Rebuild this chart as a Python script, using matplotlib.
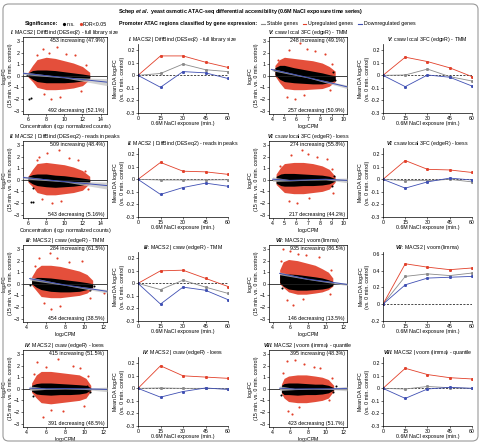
import numpy as np
import matplotlib
matplotlib.use('Agg')
import matplotlib.pyplot as plt
from matplotlib.patches import FancyBboxPatch
from matplotlib.lines import Line2D

plt.rcParams['font.family'] = ['Liberation Sans', 'DejaVu Sans']
plt.rcParams['mathtext.fontset'] = 'custom'
plt.rcParams['mathtext.rm'] = 'Liberation Sans'
plt.rcParams['mathtext.it'] = 'Liberation Sans:italic'
plt.rcParams['mathtext.bf'] = 'Liberation Sans:bold'
plt.rcParams['mathtext.bfit'] = 'Liberation Sans:bold:italic'

# ── panel labels ─────────────────────────────────────────────────────────────
NUMERALS = ['I', 'II', 'III', 'IV', 'V', 'VI', 'VII', 'VIII']
TITLES = [
    'MACS2 | DiffBind (DESeq2) - full library size',
    'MACS2 | DiffBind (DESeq2) - reads in peaks',
    'MACS2 | csaw (edgeR) - TMM',
    'MACS2 | csaw (edgeR) - loess',
    'csaw local 3FC (edgeR) - TMM',
    'csaw local 3FC (edgeR) - loess',
    'MACS2 | voom (limma)',
    'MACS2 | voom (limma) - quantile',
]
INC_TEXT = ['453 increasing (47.9%)', '509 increasing (48.4%)',
            '284 increasing (61.5%)', '415 increasing (51.5%)',
            '248 increasing (49.1%)', '274 increasing (55.8%)',
            '935 increasing (86.5%)', '395 increasing (48.3%)']
DEC_TEXT = ['492 decreasing (52.1%)', '543 decreasing (5.16%)',
            '454 decreasing (38.5%)', '391 decreasing (48.5%)',
            '257 decreasing (50.9%)', '217 decreasing (44.2%)',
            '146 decreasing (13.5%)', '423 decreasing (51.7%)']
XLABELS = [r'Concentration (log$_2$ normalized counts)'] * 2 + [r'log$_2$CPM'] * 6

# ── MA plot x axes ───────────────────────────────────────────────────────────
XLIMS = [(5.45, 14.7), (5.45, 14.7), (3.6, 12.4), (3.6, 12.4),
         (3.7, 10.3), (3.7, 10.3), (3.6, 12.4), (3.6, 12.4)]
XTICKS = [[6, 8, 10, 12, 14]] * 2 + [[4, 6, 8, 10, 12]] * 2 + \
         [[4, 5, 6, 7, 8, 9, 10]] * 2 + [[4, 6, 8, 10, 12]] * 2

# ── MA point clouds (envelopes) ──────────────────────────────────────────────
CLOUD_X = [
    [6.0, 6.5, 7.0, 8.0, 9.0, 10.0, 11.0, 12.0, 12.8],
    [6.0, 6.5, 7.0, 8.0, 9.0, 10.0, 11.0, 12.0, 12.8],
    [4.5, 5.0, 5.5, 6.5, 7.5, 8.5, 9.5, 10.3, 10.9],
    [4.5, 5.0, 5.5, 6.5, 7.5, 8.5, 9.5, 10.2, 10.7],
    [4.2, 4.6, 5.0, 5.8, 6.6, 7.4, 8.2, 8.8, 9.3],
    [4.3, 4.7, 5.0, 5.8, 6.6, 7.4, 8.2, 8.8, 9.3],
    [4.8, 5.2, 5.8, 6.8, 7.8, 8.8, 9.6, 10.3, 10.8],
    [5.0, 5.3, 5.8, 6.8, 7.8, 8.8, 9.6, 10.3, 10.9],
]
BLACK_HI = [
    [0.25, 0.45, 0.5, 0.5, 0.45, 0.35, 0.25, 0.15, 0.05],
    [0.3, 0.45, 0.5, 0.5, 0.4, 0.35, 0.25, 0.15, 0.05],
    [0.4, 0.55, 0.55, 0.5, 0.4, 0.3, 0.2, 0.1, 0.0],
    [0.3, 0.45, 0.5, 0.5, 0.45, 0.4, 0.35, 0.3, 0.1],
    [0.7, 0.9, 0.9, 0.7, 0.55, 0.4, 0.25, 0.1, 0.0],
    [0.3, 0.5, 0.55, 0.55, 0.5, 0.45, 0.4, 0.3, 0.1],
    [0.8, 0.9, 0.85, 0.8, 0.7, 0.6, 0.5, 0.35, 0.2],
    [0.3, 0.45, 0.5, 0.5, 0.45, 0.4, 0.4, 0.3, 0.1],
]
BLACK_LO = [
    [-0.05, -0.3, -0.5, -0.6, -0.6, -0.6, -0.55, -0.45, -0.2],
    [-0.1, -0.35, -0.5, -0.6, -0.65, -0.6, -0.55, -0.45, -0.2],
    [0.0, -0.3, -0.5, -0.65, -0.7, -0.7, -0.65, -0.5, -0.3],
    [-0.2, -0.45, -0.5, -0.55, -0.5, -0.5, -0.45, -0.35, -0.1],
    [0.1, -0.3, -0.5, -0.6, -0.65, -0.7, -0.7, -0.6, -0.4],
    [-0.3, -0.5, -0.55, -0.55, -0.5, -0.5, -0.45, -0.35, -0.1],
    [0.1, -0.2, -0.45, -0.55, -0.55, -0.5, -0.45, -0.35, -0.15],
    [-0.3, -0.5, -0.5, -0.55, -0.5, -0.5, -0.45, -0.35, -0.1],
]
RED_HI = [
    [0.3, 0.9, 1.4, 1.6, 1.5, 1.3, 1.1, 0.8, 0.3],
    [0.3, 0.9, 1.4, 1.5, 1.4, 1.3, 1.1, 0.8, 0.3],
    [0.6, 1.3, 1.6, 1.6, 1.5, 1.3, 1.1, 0.8, 0.3],
    [0.5, 1.2, 1.5, 1.5, 1.4, 1.3, 1.2, 0.9, 0.3],
    [0.9, 1.4, 1.6, 1.5, 1.4, 1.3, 1.1, 0.8, 0.4],
    [0.5, 1.1, 1.4, 1.5, 1.5, 1.4, 1.2, 0.9, 0.3],
    [1.2, 1.9, 2.1, 2.0, 1.8, 1.6, 1.3, 1.0, 0.5],
    [0.4, 0.9, 1.1, 1.2, 1.2, 1.1, 1.0, 0.8, 0.3],
]
RED_LO = [
    [-0.1, -0.5, -1.0, -1.2, -1.2, -1.15, -1.05, -0.85, -0.3],
    [-0.2, -0.6, -1.1, -1.3, -1.3, -1.2, -1.1, -0.9, -0.3],
    [-0.1, -0.6, -1.1, -1.2, -1.2, -1.1, -1.0, -0.8, -0.4],
    [-0.3, -0.8, -1.2, -1.3, -1.2, -1.1, -1.0, -0.8, -0.2],
    [0.0, -0.6, -1.1, -1.2, -1.2, -1.15, -1.1, -0.9, -0.5],
    [-0.4, -0.8, -1.1, -1.2, -1.2, -1.1, -1.0, -0.8, -0.2],
    [0.0, -0.3, -0.7, -0.9, -0.9, -0.8, -0.7, -0.5, -0.2],
    [-0.4, -0.8, -1.1, -1.2, -1.2, -1.1, -1.0, -0.8, -0.2],
]
RED_OUT_X = [
    [7.6, 8.3, 9.2, 10.2, 11.2, 7.8, 8.5, 9.5, 12.4, 7.0, 11.8],
    [7.2, 8.1, 9.4, 10.5, 11.5, 7.5, 8.6, 9.6, 12.3, 7.0, 12.6],
    [5.3, 6.4, 7.2, 8.4, 9.8, 5.8, 6.5, 7.5, 12.1, 4.9, 10.6],
    [5.1, 7.3, 6.0, 8.8, 9.6, 5.7, 6.5, 7.8, 10.0, 4.8, 10.4],
    [5.4, 6.3, 6.9, 7.6, 8.4, 5.2, 5.9, 6.7, 8.9, 4.5, 9.0],
    [5.6, 6.5, 7.0, 7.8, 8.6, 5.4, 6.1, 7.1, 9.1, 4.6, 9.0],
    [5.2, 6.0, 6.9, 7.8, 9.2, 5.6, 6.3, 7.4, 10.6, 4.9, 10.5],
    [5.6, 6.5, 7.6, 8.7, 9.4, 5.8, 6.2, 7.0, 10.4, 5.2, 10.7],
]
RED_OUT_Y = [
    [2.3, 2.0, 2.5, 1.9, 1.8, -1.6, -2.0, -1.8, 0.9, 1.8, -1.3],
    [2.0, 2.3, 2.6, 1.9, 1.7, -1.7, -2.0, -1.8, 0.8, 1.7, -0.8],
    [2.2, 2.7, 2.2, 1.9, 2.0, -1.7, -2.2, -1.9, -0.8, 1.5, -1.2],
    [2.3, 2.6, 1.9, 2.0, 1.8, -2.4, -1.8, -1.9, -1.5, 1.3, 1.1],
    [2.2, 2.8, 2.3, 2.1, 1.9, -1.8, -2.0, -1.7, -1.2, 1.4, 1.0],
    [2.1, 2.6, 2.2, 2.0, 1.8, -1.8, -2.0, -1.6, -1.1, 1.2, 0.9],
    [3.0, 2.8, 2.6, 2.5, 2.3, -1.4, -1.8, -1.3, 1.2, 2.0, -0.9],
    [2.4, 2.5, 2.1, 1.9, 1.8, -1.9, -2.2, -1.6, -1.0, 1.4, 0.9],
]
BLACK_OUT_X = [[6.1, 6.3, 5.9], [6.3, 6.5, 6.6], [4.3, 11.0, 10.6], [4.6, 10.3, 10.6],
               [4.1, 9.3, 9.1], [4.3, 9.2, 9.0], [4.9, 10.8, 5.1], [5.0, 11.2, 10.8]]
BLACK_OUT_Y = [[-2.0, -1.95, 0.1], [-1.95, -1.95, -0.7], [-0.1, -0.2, -0.5], [-0.6, 0.2, -0.3],
               [0.5, -0.4, 0.3], [0.0, 0.3, -0.5], [0.6, 0.1, -0.4], [-0.5, 0.2, -0.3]]

# ── MA regression fits (line + band half width) ──────────────────────────────
REG_X = [
    [5.45, 10.0, 14.7], [5.45, 10.0, 14.7], [4.3, 8.0, 12.4], [4.3, 6.0, 8.0, 10.0, 12.4],
    [3.9, 7.0, 10.3], [4.0, 5.5, 7.0, 8.5, 10.3], [4.8, 8.0, 12.4], [4.8, 6.5, 8.5, 10.5, 12.4],
]
REG_Y = [
    [0.22, -0.15, -0.55], [0.2, -0.15, -0.5], [0.45, -0.1, -0.65], [0.05, 0.0, 0.02, 0.0, -0.05],
    [0.55, -0.15, -0.95], [0.05, -0.05, 0.0, 0.05, -0.05], [0.9, 0.4, -0.05], [0.05, -0.02, 0.0, 0.0, 0.02],
]
REG_W = [
    [0.12, 0.03, 0.3], [0.12, 0.03, 0.3], [0.15, 0.03, 0.15], [0.2, 0.05, 0.03, 0.05, 0.2],
    [0.1, 0.03, 0.15], [0.2, 0.05, 0.03, 0.05, 0.2], [0.12, 0.03, 0.1], [0.2, 0.05, 0.03, 0.05, 0.2],
]

# ── mean DA log2FC over the time series ──────────────────────────────────────
TIME = [0, 15, 30, 45, 60]
UP = [
    [0, 0.155, 0.155, 0.105, 0.063],
    [0, 0.135, 0.065, 0.06, 0.04],
    [0, 0.10, 0.105, 0.04, -0.025],
    [0, 0.18, 0.10, 0.09, 0.08],
    [0, 0.145, 0.11, 0.06, -0.01],
    [0, 0.15, 0.08, 0.075, 0.055],
    [0, 0.48, 0.44, 0.41, 0.43],
    [0, 0.16, 0.11, 0.085, 0.075],
]
STABLE = [
    [0, 0.015, 0.09, 0.045, 0.03],
    [0, -0.005, -0.005, -0.005, -0.003],
    [0, -0.05, 0.025, -0.03, -0.08],
    [0, 0.003, 0.0, 0.0, -0.005],
    [0, 0.003, 0.05, -0.01, -0.045],
    [0, -0.01, -0.01, 0.0, -0.02],
    [0, 0.33, 0.36, 0.34, 0.37],
    [0, -0.005, 0.015, 0.005, 0.0],
]
DOWN = [
    [0, -0.095, 0.03, 0.02, -0.025],
    [0, -0.12, -0.065, -0.03, -0.055],
    [0, -0.165, -0.03, -0.055, -0.13],
    [0, -0.07, -0.025, 0.003, -0.008],
    [0, -0.09, 0.003, -0.015, -0.085],
    [0, -0.07, -0.02, 0.01, -0.005],
    [0, 0.23, 0.31, 0.32, 0.33],
    [0, -0.08, -0.005, 0.008, 0.0],
]

RED = '#e2402a'
BLUE = '#3f4fb3'
GRAY = '#8a8a8a'
BAND = '#c4c4c4'
FS = 3.8

W, H = 481, 445
fig = plt.figure(figsize=(W / 100, H / 100), dpi=100)


def px_axes(x0, y0, x1, y1):
    return fig.add_axes([x0 / W, 1 - y1 / H, (x1 - x0) / W, (y1 - y0) / H])


def panel_title(i):
    return r'$\mathbfit{' + NUMERALS[i] + r'}$: ' + TITLES[i]


def draw_ma(ax, i):
    x = CLOUD_X[i]
    ax.fill_between(x, RED_LO[i], RED_HI[i], color=RED, lw=0, alpha=0.92, zorder=1)
    ax.scatter(RED_OUT_X[i], RED_OUT_Y[i], s=2.4, color=RED, lw=0, zorder=1)
    ax.fill_between(x, BLACK_LO[i], BLACK_HI[i], color='black', lw=0, zorder=2)
    ax.scatter(BLACK_OUT_X[i], BLACK_OUT_Y[i], s=2.2, color='black', lw=0, zorder=2)
    ax.axhline(0, color='#222222', lw=0.6, zorder=3)
    ry = np.array(REG_Y[i])
    rw = np.array(REG_W[i])
    ax.fill_between(REG_X[i], ry - rw, ry + rw, color=BAND, lw=0, alpha=0.75, zorder=4)
    ax.plot(REG_X[i], ry, color=BLUE, lw=0.7, zorder=5)
    ax.set_xlim(*XLIMS[i])
    ax.set_xticks(XTICKS[i])
    ax.set_ylim(-3.3, 3.35)
    ax.set_yticks([-3, -2, -1, 0, 1, 2, 3])
    ax.text(0.97, 0.99, INC_TEXT[i], transform=ax.transAxes, ha='right', va='top', fontsize=FS)
    ax.text(0.97, 0.015, DEC_TEXT[i], transform=ax.transAxes, ha='right', va='bottom', fontsize=FS)
    ax.set_xlabel(XLABELS[i], fontsize=FS, labelpad=0.2)
    ax.set_ylabel('log$_2$FC\n(15 min. vs. 0 min. control)', fontsize=FS, labelpad=0.3, linespacing=0.95)
    ax.set_title(panel_title(i), fontsize=FS, pad=1.0)
    ax.tick_params(labelsize=FS, length=1.5, width=0.4, pad=0.7)
    for s in ax.spines.values():
        s.set_linewidth(0.5)


def draw_line(ax, i):
    ax.axhline(0, color='black', lw=0.5, ls=(0, (3, 2)), zorder=1)
    for vals, c in [(STABLE[i], GRAY), (UP[i], RED), (DOWN[i], BLUE)]:
        ax.plot(TIME, vals, color=c, lw=0.6, marker='s', ms=1.1, mec=c, mfc=c, zorder=2)
    ax.set_xlim(0, 60)
    ax.set_xticks(TIME)
    if i == 6:
        ax.set_ylim(-0.2, 0.62)
        ax.set_yticks([-0.2, 0, 0.2, 0.4, 0.6])
        ax.set_yticklabels(['-0.2', '0', '0.2', '0.4', '0.6'])
    else:
        ax.set_ylim(-0.3, 0.25)
        ax.set_yticks([-0.3, -0.2, -0.1, 0, 0.1, 0.2])
        ax.set_yticklabels(['-0.3', '-0.2', '-0.1', '0', '0.1', '0.2'])
    ax.spines['top'].set_visible(False)
    ax.spines['right'].set_visible(False)
    for s in ax.spines.values():
        s.set_linewidth(0.5)
    ax.set_xlabel('0.6M NaCl exposure (min.)', fontsize=FS, labelpad=0.2)
    ax.set_ylabel('Mean DA log$_2$FC\n(vs. 0 min. control)', fontsize=FS, labelpad=0.3, linespacing=0.95)
    ax.set_title(panel_title(i), fontsize=FS, pad=1.5)
    ax.tick_params(labelsize=FS, length=1.5, width=0.4, pad=0.7)


# ── layout: 4 rows, left block I-IV, right block V-VIII ─────────────────────
ROW_TOP = [37, 141, 245, 350]
MA_H = 77
COLS = [(23, 107, 138, 228), (269, 347, 383, 472)]

for blk, (ma0, ma1, ln0, ln1) in enumerate(COLS):
    for r in range(4):
        i = blk * 4 + r
        top = ROW_TOP[r]
        ax_ma = px_axes(ma0, top, ma1, top + MA_H)
        draw_ma(ax_ma, i)
        ax_ln = px_axes(ln0, top + 7, ln1, top + MA_H - 1)
        draw_line(ax_ln, i)

# ── header ───────────────────────────────────────────────────────────────────
fig.text(0.5, 1 - 11 / H, r'Schep $\mathbfit{et\ al.}$ yeast osmotic ATAC-seq differential accessibility (0.6M NaCl exposure time series)',
         ha='center', va='center', fontsize=3.9, fontweight='bold')

renderer = fig.canvas.get_renderer()
hy = 1 - 24 / H
cursor = [25.0]


def put_text(s, gap, **kw):
    t = fig.text(cursor[0] / W, hy, s, ha='left', va='center', fontsize=FS, **kw)
    bb = t.get_window_extent(renderer)
    cursor[0] = bb.x1 + gap


def put_mark(color, kind):
    if kind == 'dot':
        fig.add_artist(Line2D([(cursor[0] + 1) / W], [hy], marker='o', ms=1.3, color=color, lw=0))
        cursor[0] += 3
    else:
        fig.add_artist(Line2D([cursor[0] / W, (cursor[0] + 3.5) / W], [hy, hy], color=color, lw=0.8))
        cursor[0] += 5.5


put_text('Significance:', 5, fontweight='bold')
put_mark('black', 'dot')
put_text('n.s.', 5)
put_mark(RED, 'dot')
put_text('FDR<0.05', 12)
put_text('Promoter ATAC regions classified by gene expression:', 4, fontweight='bold')
put_mark(GRAY, 'line')
put_text('Stable genes', 5)
put_mark(RED, 'line')
put_text('Upregulated genes', 5)
put_mark(BLUE, 'line')
put_text('Downregulated genes', 5)

fig.patches.append(FancyBboxPatch((3 / W, 4 / H), 475 / W, 437 / H, boxstyle='round,pad=0,rounding_size=0.012',
                                  transform=fig.transFigure, facecolor='none', edgecolor='#9a9a9a', lw=0.8))

fig.savefig('out.png', dpi=100)
